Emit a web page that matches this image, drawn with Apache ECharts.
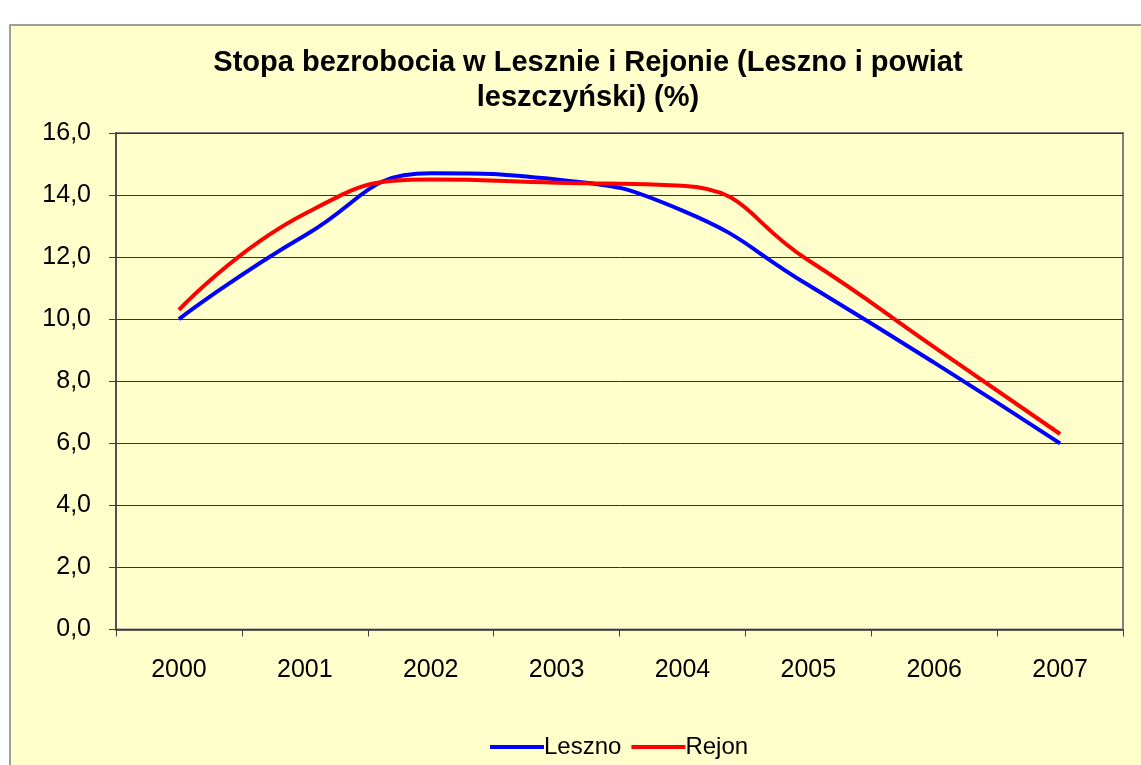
<!DOCTYPE html>
<html>
<head>
<meta charset="utf-8">
<script src="https://cdn.jsdelivr.net/npm/echarts@6/dist/echarts.min.js"></script>
<style>
html,body{margin:0;padding:0;background:#fff;}
#chart{width:1141px;height:765px;}
</style>
</head>
<body>
<div id="chart"></div>
<script>
const categories = ['2000','2001','2002','2003','2004','2005','2006','2007'];
const leszno = [10.0, 12.7, 14.7, 14.5, 13.5, 11.1, 8.6, 6.0];
const rejon  = [10.3, 13.4, 14.5, 14.4, 14.3, 11.9, 9.1, 6.3];
const titleText = 'Stopa bezrobocia w Lesznie i Rejonie (Leszno i powiat\nleszczyński) (%)';

const chart = echarts.init(document.getElementById('chart'));
const font = 'Liberation Sans, Arial, sans-serif';
chart.setOption({
  backgroundColor: '#ffffff',
  animation: false,
  graphic: [{
    type: 'rect', z: -10, silent: true,
    shape: { x: 10, y: 25, width: 1140, height: 750 },
    style: { fill: '#FFFFCC', stroke: '#808080', lineWidth: 1.5 }
  }],
  title: {
    text: titleText,
    left: 583, top: 40,
    textAlign: 'center',
    textStyle: { fontFamily: font, fontSize: 29, fontWeight: 'bold', color: '#000', lineHeight: 35 }
  },
  legend: {
    left: 485, top: 730,
    itemWidth: 54, itemHeight: 4, itemGap: 10,
    icon: 'rect',
    textStyle: { fontFamily: font, fontSize: 24, color: '#000', padding: [0,0,0,-5] },
    data: ['Leszno', 'Rejon']
  },
  grid: {
    left: 116, right: 18, top: 133, height: 496.5,
    show: true, backgroundColor: 'transparent', borderColor: '#808080', borderWidth: 2
  },
  xAxis: {
    type: 'category', data: categories, boundaryGap: true,
    axisLine: { lineStyle: { color: '#404040', width: 1.5 } },
    axisTick: { show: true, length: 7, lineStyle: { color: '#404040' } },
    axisLabel: { fontFamily: font, fontSize: 25, color: '#000', margin: 28 }
  },
  yAxis: {
    type: 'value', min: 0, max: 16, interval: 2,
    axisLine: { show: true, lineStyle: { color: '#404040', width: 1.5 } },
    axisTick: { show: true, length: 7, lineStyle: { color: '#404040' } },
    axisLabel: { fontFamily: font, fontSize: 25, color: '#000', margin: 25,
      formatter: v => v.toFixed(1).replace('.', ',') },
    splitLine: { lineStyle: { color: '#333', width: 1 } }
  },
  series: [
    { name: 'Leszno', type: 'line', data: leszno, smooth: 0.5, symbol: 'none',
      lineStyle: { color: '#0000FF', width: 4 }, itemStyle: { color: '#0000FF' } },
    { name: 'Rejon', type: 'line', data: rejon, smooth: 0.5, symbol: 'none',
      lineStyle: { color: '#FF0000', width: 4 }, itemStyle: { color: '#FF0000' } }
  ]
});
</script>
</body>
</html>
